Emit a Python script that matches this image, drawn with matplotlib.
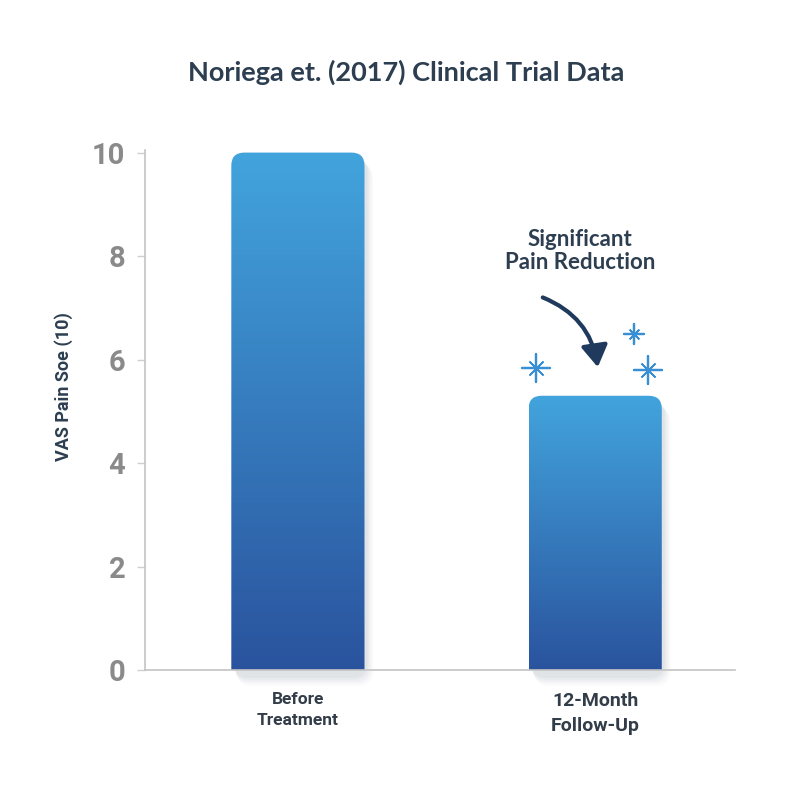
import matplotlib
matplotlib.use("Agg")
import matplotlib.pyplot as plt
import numpy as np
from matplotlib.patches import FancyBboxPatch, FancyArrowPatch
from matplotlib.colors import to_rgb

# data
categories = ["Before\nTreatment", "12-Month\nFollow-Up"]
vas_scores = [10.0, 5.3]
y_ticks = [0, 2, 4, 6, 8, 10]

TOP_COLOR = "#42a4dd"
BOTTOM_COLOR = "#2a539e"
NAVY = "#2c3e50"

fig = plt.figure(figsize=(8, 8), dpi=100)
ax = fig.add_axes([0.181, 0.1625, 0.738, 0.65])

x = np.arange(len(categories))
bar_width = 0.448
bars = ax.bar(x, vas_scores, width=bar_width, color="none", edgecolor="none", zorder=1)

ax.set_xlim(-0.515, 1.471)
ax.set_ylim(0, 10.05)

# data units per pixel, used to keep rounded corners circular
bbox = ax.get_window_extent()
x_per_px = (1.471 + 0.515) / bbox.width
y_per_px = 10.05 / bbox.height
radius_px = 13

grad = np.linspace(0, 1, 256)[:, None]
c_top = np.array(to_rgb(TOP_COLOR))
c_bot = np.array(to_rgb(BOTTOM_COLOR))
img = (c_top[None, None, :] * (1 - grad[..., None]) + c_bot[None, None, :] * grad[..., None])

for bar in bars:
    x0 = bar.get_x()
    w = bar.get_width()
    h = bar.get_height()
    r = radius_px * x_per_px
    aspect = y_per_px / x_per_px

    # soft shadow
    for i, a in enumerate([0.035, 0.03, 0.025, 0.02, 0.015]):
        off = (i + 2) * x_per_px * 1.5
        sh = FancyBboxPatch((x0 + off * 0.6, -8 * y_per_px - i * 2 * y_per_px), w + off * 0.4,
                            h + 4 * y_per_px,
                            boxstyle=f"round,pad=0,rounding_size={r * 1.2}",
                            mutation_aspect=aspect, facecolor="#1a2a40", edgecolor="none",
                            alpha=a, zorder=0.5, clip_on=False)
        ax.add_patch(sh)

    clip = FancyBboxPatch((x0, -2 * r * aspect), w, h + 2 * r * aspect,
                          boxstyle=f"round,pad=0,rounding_size={r}",
                          mutation_aspect=aspect, facecolor="none", edgecolor="none",
                          transform=ax.transData)
    ax.add_patch(clip)
    im = ax.imshow(img, extent=(x0, x0 + w, 0, h), aspect="auto", zorder=2,
                   interpolation="bicubic")
    im.set_clip_path(clip)

ax.set_xlim(-0.515, 1.471)
ax.set_ylim(0, 10.05)

# axes styling
for side in ["top", "right"]:
    ax.spines[side].set_visible(False)
for side in ["left", "bottom"]:
    ax.spines[side].set_color("#c4c4c4")
    ax.spines[side].set_linewidth(1.2)
ax.spines["bottom"].set_zorder(3)

ax.set_yticks(y_ticks)
ax.set_yticklabels([str(t) for t in y_ticks], fontfamily="Roboto", fontweight="bold",
                   fontsize=21, color="#8a8a8a")
ax.tick_params(axis="y", length=6, width=1, color="#d0d0d0", pad=8)

ax.set_xticks(x)
ax.set_xticklabels(categories, fontfamily="Roboto", fontweight="bold", color="#333d49",
                   linespacing=1.5)
ax.get_xticklabels()[0].set_fontsize(12.5)
ax.get_xticklabels()[1].set_fontsize(14)
ax.tick_params(axis="x", length=0, pad=16)

ax.set_ylabel("VAS Pain Soe (10)", fontfamily="Roboto", fontweight="bold",
              fontsize=13, color=NAVY)
ax.yaxis.set_label_coords(-0.122, 0.545)

fig.text(0.508, 0.909, "Noriega et. (2017) Clinical Trial Data", ha="center",
         va="center", fontfamily="Lato", fontweight="bold", fontsize=19.5, color=NAVY)

# annotation over the follow-up bar
ax.text(0.95, 8.1, "Significant\nPain Reduction", ha="center", va="center",
        fontfamily="Lato", fontweight="bold", fontsize=16, color=NAVY,
        linespacing=1.15)

arrow = FancyArrowPatch((0.815, 7.22), (1.01, 5.8),
                        connectionstyle="arc3,rad=-0.3",
                        arrowstyle="-|>,head_length=13,head_width=8",
                        lw=3, color="#1f3a5c", zorder=4)
ax.add_patch(arrow)

# sparkles
sparkle_color = "#3a8fd3"
for sx, sy, size in [(0.802, 5.84, 1.0), (1.178, 5.8, 1.0), (1.13, 6.5, 0.45)]:
    ax.scatter([sx], [sy], marker=(4, 2, 0), s=420 * size, color=sparkle_color,
               linewidths=1.6, zorder=4)
    ax.scatter([sx], [sy], marker=(4, 2, 45), s=170 * size, color=sparkle_color,
               linewidths=1.2, zorder=4)

fig.savefig("out.png", dpi=100, facecolor="white")
